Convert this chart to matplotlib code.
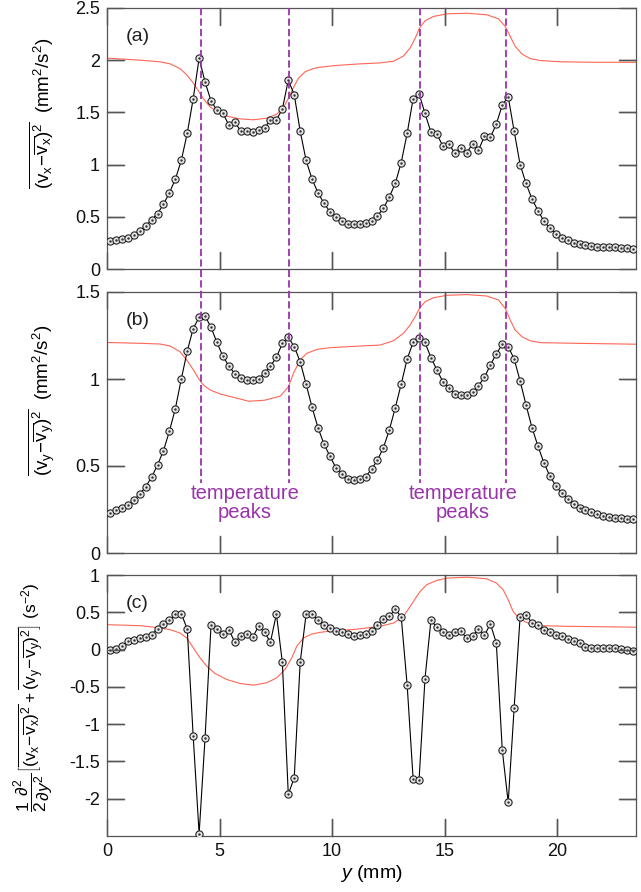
import numpy as np
import matplotlib
matplotlib.use('Agg')
import matplotlib.pyplot as plt
from matplotlib.lines import Line2D
import matplotlib.transforms as mtransforms
from matplotlib.ticker import FormatStrFormatter

plt.rcParams['font.family'] = ['Liberation Sans', 'DejaVu Sans']
plt.rcParams['mathtext.fontset'] = 'custom'
plt.rcParams['mathtext.rm'] = 'Liberation Sans'
plt.rcParams['mathtext.it'] = 'Liberation Sans:italic'
plt.rcParams['xtick.direction'] = 'in'
plt.rcParams['ytick.direction'] = 'in'
plt.rcParams['xtick.top'] = True
plt.rcParams['ytick.right'] = True
plt.rcParams['xtick.major.size'] = 12.5
plt.rcParams['ytick.major.size'] = 12.5
plt.rcParams['xtick.major.width'] = 1.0
plt.rcParams['ytick.major.width'] = 1.0
plt.rcParams['xtick.color'] = '#555555'
plt.rcParams['ytick.color'] = '#555555'
plt.rcParams['xtick.labelcolor'] = '#111111'
plt.rcParams['ytick.labelcolor'] = '#111111'
plt.rcParams['xtick.labelsize'] = 13
plt.rcParams['ytick.labelsize'] = 13
plt.rcParams['xtick.major.pad'] = 5
plt.rcParams['ytick.major.pad'] = 5

# ---------------- data ----------------
n_bins = 89
x_max = 23.5
y_pos = (np.arange(n_bins) + 0.5) * x_max / n_bins   # bin centres (mm)

var_x = [0.27, 0.28, 0.29, 0.30, 0.33, 0.365, 0.41, 0.47, 0.53, 0.62,
         0.73, 0.86, 1.04, 1.30, 1.63, 2.02, 1.79, 1.61, 1.52, 1.49,
         1.38, 1.41, 1.32, 1.32, 1.31, 1.33, 1.35, 1.43, 1.43, 1.53,
         1.81, 1.67, 1.32, 1.04, 0.86, 0.73, 0.63, 0.55, 0.50, 0.46,
         0.435, 0.43,
         0.43, 0.44, 0.46, 0.51, 0.58, 0.69, 0.82, 1.02, 1.30, 1.63,
         1.68, 1.49, 1.31, 1.29, 1.18, 1.20, 1.11, 1.16, 1.11, 1.20,
         1.14, 1.27, 1.26, 1.39, 1.57, 1.65, 1.32, 1.00, 0.82, 0.67,
         0.56, 0.46, 0.39, 0.34, 0.30, 0.28, 0.25, 0.24, 0.23, 0.22,
         0.21, 0.21, 0.21, 0.21, 0.20, 0.20, 0.19]

var_y = [0.228, 0.247, 0.26, 0.276, 0.305, 0.337, 0.381, 0.435, 0.506, 0.588,
         0.70, 0.83, 1.00, 1.16, 1.29, 1.354, 1.362, 1.297, 1.21, 1.13,
         1.075, 1.03, 1.004, 0.994, 0.994, 0.998, 1.036, 1.075, 1.124, 1.205,
         1.24, 1.186, 1.10, 0.97, 0.837, 0.72, 0.626, 0.557, 0.49, 0.452,
         0.425, 0.42,
         0.425, 0.439, 0.481, 0.534, 0.605, 0.707, 0.835, 0.971, 1.115, 1.21,
         1.234, 1.21, 1.123, 1.052, 0.985, 0.946, 0.914, 0.908, 0.908, 0.923,
         0.962, 1.01, 1.08, 1.145, 1.199, 1.186, 1.115, 0.989, 0.851, 0.72,
         0.615, 0.519, 0.443, 0.387, 0.343, 0.31, 0.282, 0.261, 0.247, 0.234,
         0.222, 0.215, 0.209, 0.203, 0.199, 0.197, 0.195]

lap = [0.0, 0.01, 0.045, 0.11, 0.13, 0.155, 0.165, 0.20, 0.276, 0.343,
       0.39, 0.477, 0.481, 0.276, -1.16, -2.47, -1.18, 0.325, 0.276, 0.21,
       0.267, 0.10, 0.178, 0.214, 0.165, 0.312, 0.232, 0.10, 0.477, -0.17,
       -1.94, -1.72, -0.17, 0.477, 0.477, 0.39, 0.325, 0.29, 0.245, 0.232,
       0.214, 0.187,
       0.20, 0.214, 0.254, 0.334, 0.41, 0.446, 0.544, 0.437, -0.477, -1.73,
       -1.75, -0.39, 0.392, 0.30, 0.236, 0.191, 0.236, 0.245, 0.156, 0.178,
       0.281, 0.191, 0.343, 0.089, -1.346, -2.05, -0.78, 0.437, 0.468, 0.357,
       0.334, 0.267, 0.236, 0.20, 0.178, 0.143, 0.12, 0.089, 0.036, 0.022,
       0.022, 0.022, 0.022, 0.022, 0.009, 0.0, -0.022]

# temperature profiles (arbitrary scaling, red curves)
temp_a_x = [0.0, 1.5, 2.36, 2.8, 3.24, 3.54, 3.84, 4.06, 4.28, 4.58,
            4.95, 5.32, 5.91, 6.5, 7.1, 7.54, 7.84, 8.06, 8.28, 8.5,
            8.8, 9.17, 9.47, 10.2, 11.24, 12.13, 12.73, 13.17, 13.47, 13.69,
            13.88, 14.13, 14.5, 15.1, 15.99, 16.87, 17.39, 17.69, 17.91, 18.13,
            18.43, 18.8, 19.24, 20.13, 21.6, 23.5]
temp_a_y = [2.02, 2.0, 1.984, 1.965, 1.92, 1.86, 1.78, 1.705, 1.63, 1.553,
            1.498, 1.464, 1.438, 1.429, 1.445, 1.483, 1.546, 1.635, 1.737, 1.826,
            1.889, 1.92, 1.933, 1.95, 1.965, 1.974, 1.99, 2.04, 2.118, 2.21,
            2.308, 2.378, 2.419, 2.444, 2.45, 2.435, 2.397, 2.324, 2.229, 2.133,
            2.06, 2.016, 1.997, 1.985, 1.98, 1.98]

temp_b_x = [0.0, 1.5, 2.36, 2.8, 3.24, 3.54, 3.84, 4.06, 4.28, 4.58,
            5.02, 5.61, 6.3, 7.0, 7.7, 8.06, 8.28, 8.58, 8.87, 9.32,
            9.91, 11.0, 12.13, 12.73, 13.17, 13.47, 13.69, 13.88, 14.13, 14.5,
            15.1, 15.99, 16.87, 17.39, 17.69, 17.91, 18.13, 18.43, 18.8, 19.24,
            20.87, 23.5]
temp_b_y = [1.21, 1.205, 1.201, 1.19, 1.157, 1.109, 1.052, 1.004, 0.965, 0.937,
            0.914, 0.895, 0.872, 0.878, 0.902, 0.956, 1.032, 1.109, 1.147, 1.17,
            1.18, 1.188, 1.195, 1.22, 1.263, 1.311, 1.358, 1.406, 1.444, 1.467,
            1.481, 1.485, 1.477, 1.454, 1.406, 1.339, 1.282, 1.243, 1.22, 1.209,
            1.205, 1.20]

temp_c_x = [0.0, 1.5, 2.36, 2.8, 3.24, 3.54, 3.84, 4.13, 4.43, 4.8,
            5.32, 5.91, 6.5, 7.1, 7.54, 7.91, 8.21, 8.43, 8.73, 9.1,
            9.47, 10.21, 11.0, 12.13, 12.73, 13.17, 13.47, 13.76, 13.91, 14.2,
            14.64, 15.1, 15.99, 16.87, 17.3, 17.6, 17.82, 18.04, 18.33, 18.7,
            19.24, 20.43, 23.5]
temp_c_y = [0.334, 0.32, 0.29, 0.267, 0.223, 0.156, 0.022, -0.111, -0.223, -0.321,
            -0.401, -0.455, -0.477, -0.445, -0.379, -0.267, -0.111, 0.045, 0.156, 0.209,
            0.231, 0.258, 0.27, 0.312, 0.356, 0.445, 0.579, 0.713, 0.78, 0.869,
            0.927, 0.958, 0.971, 0.949, 0.891, 0.802, 0.668, 0.512, 0.41, 0.356,
            0.321, 0.312, 0.30]

peak_positions = [4.18, 8.09, 13.9, 17.73]

xticks = [0, 5, 10, 15, 20]
yticks_a = [0, 0.5, 1, 1.5, 2, 2.5]
yticks_b = [0, 0.5, 1, 1.5]
yticks_c = [-2, -1.5, -1, -0.5, 0, 0.5, 1]

# ---------------- figure ----------------
W, H = 641, 892
fig = plt.figure(figsize=(W / 100, H / 100), dpi=100)

def ax_rect(top_px, bot_px, left_px=107, right_px=636):
    return [left_px / W, 1 - bot_px / H, (right_px - left_px) / W, (bot_px - top_px) / H]

ax_a = fig.add_axes(ax_rect(8, 269))
ax_b = fig.add_axes(ax_rect(292, 553))
ax_c = fig.add_axes(ax_rect(575, 836))

RED = '#ff6655'
PURPLE = '#9933aa'
SPINE = '#555555'
TICK = '#555555'
TICK_FRAC_X = 17.0 / 261.0   # tick length as axes fraction (vertical ticks)
TICK_FRAC_Y = 17.0 / 529.0   # tick length as axes fraction (horizontal ticks)

panels = [
    (ax_a, var_x, temp_a_x, temp_a_y, (0, 2.5), yticks_a, '(a)'),
    (ax_b, var_y, temp_b_x, temp_b_y, (0, 1.5), yticks_b, '(b)'),
    (ax_c, lap, temp_c_x, temp_c_y, (-2.5, 1), yticks_c, '(c)'),
]

for ax, data, tx, ty, ylim, yt, lab in panels:
    ax.set_xlim(0, x_max)
    ax.set_ylim(*ylim)
    ax.set_xticks(xticks)
    ax.set_yticks(yt)
    ax.yaxis.set_major_formatter(FormatStrFormatter('%g'))
    for s in ax.spines.values():
        s.set_color(SPINE)
        s.set_linewidth(0.9)
    # explicit inward tick marks (drawn through the axes' own transforms)
    tx_tr = ax.get_xaxis_transform()
    ty_tr = ax.get_yaxis_transform()
    for xt in xticks:
        if 0 < xt < x_max:
            ax.plot([xt, xt], [0, TICK_FRAC_X], transform=tx_tr, color=TICK,
                    lw=1.0, clip_on=False, zorder=6)
            ax.plot([xt, xt], [1 - TICK_FRAC_X, 1], transform=tx_tr, color=TICK,
                    lw=1.0, clip_on=False, zorder=6)
    for yv in yt:
        if ylim[0] < yv < ylim[1]:
            ax.plot([0, TICK_FRAC_Y], [yv, yv], transform=ty_tr, color=TICK,
                    lw=1.0, clip_on=False, zorder=6)
            ax.plot([1 - TICK_FRAC_Y, 1], [yv, yv], transform=ty_tr, color=TICK,
                    lw=1.0, clip_on=False, zorder=6)
    ax.plot(tx, ty, color=RED, lw=0.8, zorder=2)
    ax.plot(y_pos, data, color='black', lw=0.8, zorder=3,
            marker='o', ms=5.2, mfc='#e6e6e6', mec='#222222', mew=0.8)
    ax.plot(y_pos, data, ls='none', marker='.', ms=1.5, color='#333333', zorder=4)
    ax.text(0.035, 0.89, lab, transform=ax.transAxes, fontsize=14,
            ha='left', va='center', color='#222222')
    ax.set_xlim(0, x_max)
    ax.set_ylim(*ylim)

ax_a.tick_params(labelbottom=False)
ax_b.tick_params(labelbottom=False)

# dashed temperature-peak lines spanning panels (a) and (b)
trans = mtransforms.blended_transform_factory(ax_a.transData, fig.transFigure)
for xp in peak_positions:
    ln = Line2D([xp, xp], [1 - 8 / H, 1 - 483 / H], transform=trans,
                color=PURPLE, lw=1.3, dashes=(4.0, 1.8), zorder=5)
    fig.add_artist(ln)

for xc in [(peak_positions[0] + peak_positions[1]) / 2,
           (peak_positions[2] + peak_positions[3]) / 2]:
    ax_b.text(xc, (553 - 484) / 174, 'temperature\npeaks', color=PURPLE,
              fontsize=14.5, ha='center', va='top', linespacing=1.0)

# y labels
fig.text(42 / W, 1 - 113 / H,
         r'$\overline{(\mathrm{v_x}\!-\!\overline{\mathrm{v_x}})^2}$  (mm$^2$/s$^2$)',
         rotation=90, ha='center', va='center', fontsize=13.5)
fig.text(42 / W, 1 - 400 / H,
         r'$\overline{(\mathrm{v_y}\!-\!\overline{\mathrm{v_y}})^2}$  (mm$^2$/s$^2$)',
         rotation=90, ha='center', va='center', fontsize=13.5)
fig.text(34 / W, 1 - 697 / H,
         r'$\dfrac{1}{2}\dfrac{\partial^2}{\partial y^2}\left[\overline{(\mathrm{v_x}\!-\!\overline{\mathrm{v_x}})^2}'
         r'+\overline{(\mathrm{v_y}\!-\!\overline{\mathrm{v_y}})^2}\right]$ (s$^{-2}$)',
         rotation=90, ha='center', va='center', fontsize=12.5)

ax_c.set_xlabel(r'$y$ (mm)', fontsize=14, labelpad=2)

fig.savefig('out.png', dpi=100)
